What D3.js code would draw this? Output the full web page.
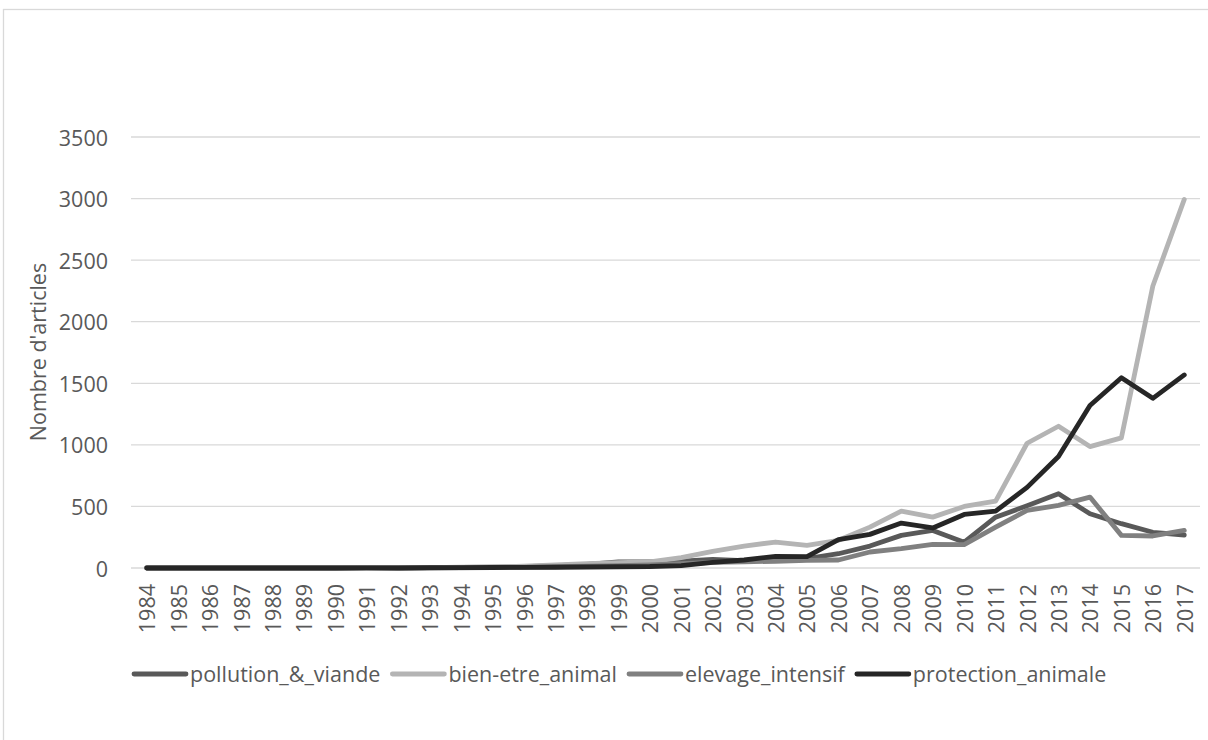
<!DOCTYPE html>
<html>
<head>
<meta charset="utf-8">
<script src="https://cdn.jsdelivr.net/npm/d3@7"></script>
<style>
  html, body { margin: 0; padding: 0; background: #fff; }
  svg { display: block; }
  text { font-family: "Open Sans", sans-serif; fill: #595959; }
</style>
</head>
<body>
<svg id="chart" width="1208" height="740"></svg>
<script>
const years = ["1984","1985","1986","1987","1988","1989","1990","1991","1992","1993","1994","1995","1996","1997","1998","1999","2000","2001","2002","2003","2004","2005","2006","2007","2008","2009","2010","2011","2012","2013","2014","2015","2016","2017"];

const pollution_viande = [0,0,0,0,0,0,0,2,1,3,5,6,10,20,30,50,50,55,70,60,65,76,116,178,265,305,210,413,505,603,440,360,290,268];
const bien_etre_animal = [0,0,0,0,0,0,0,2,1,3,6,8,15,25,35,43,49,84,135,178,211,184,225,332,462,413,500,543,1013,1151,986,1057,2290,2993];
const elevage_intensif = [0,0,0,0,0,0,0,1,0,1,2,3,5,10,15,20,25,35,45,50,55,62,65,130,157,192,190,332,468,508,576,265,260,305];
const protection_animale = [0,0,0,0,0,0,0,1,0,2,3,4,5,6,8,10,12,20,45,65,95,92,230,273,365,325,435,462,655,905,1320,1545,1378,1568];

const seriesNames = ["pollution_&_viande","bien-etre_animal","elevage_intensif","protection_animale"];
const seriesColors = ["#595959","#b4b4b4","#808080","#262626"];
const yTicks = [0,500,1000,1500,2000,2500,3000,3500];
const yTitle = "Nombre d'articles";

const seriesValues = [pollution_viande, bien_etre_animal, elevage_intensif, protection_animale];
const FS = "21.5px";

const svg = d3.select("#chart");

// outer chart border
svg.append("rect")
  .attr("x", 3.5).attr("y", 9.5)
  .attr("width", 1400).attr("height", 1000)
  .attr("fill", "none").attr("stroke", "#d9d9d9").attr("stroke-width", 1.3);

const x = d3.scaleBand().domain(years).range([131, 1200]);
const y = d3.scaleLinear().domain([0, 3500]).range([568, 137]);

// gridlines
svg.append("g").selectAll("line").data(yTicks).join("line")
  .attr("x1", 131).attr("x2", 1200)
  .attr("y1", d => y(d)).attr("y2", d => y(d))
  .attr("stroke", "#d9d9d9").attr("stroke-width", 1.3);

// y tick labels
svg.append("g").selectAll("text").data(yTicks).join("text")
  .attr("x", 108).attr("y", d => y(d))
  .attr("text-anchor", "end").attr("dominant-baseline", "central")
  .style("font-size", FS)
  .text(d => d);

// y title
svg.append("text")
  .attr("transform", "translate(37,352) rotate(-90)")
  .attr("text-anchor", "middle").attr("dominant-baseline", "central")
  .style("font-size", FS)
  .text(yTitle);

// x tick labels
svg.append("g").selectAll("text").data(years).join("text")
  .attr("transform", d => `translate(${x(d) + x.bandwidth()/2},584) rotate(-90)`)
  .attr("text-anchor", "end").attr("dominant-baseline", "central")
  .style("font-size", FS)
  .text(d => d);

// lines
const line = d3.line()
  .x((d, i) => x(years[i]) + x.bandwidth()/2)
  .y(d => y(d));

svg.append("g").selectAll("path").data(seriesValues).join("path")
  .attr("d", d => line(d))
  .attr("fill", "none")
  .attr("stroke", (d, i) => seriesColors[i])
  .attr("stroke-width", 4.8)
  .attr("stroke-linejoin", "round")
  .attr("stroke-linecap", "round");

// legend
const legend = svg.append("g");
let lx = 132;
seriesNames.forEach((name, i) => {
  legend.append("line")
    .attr("x1", lx + 2).attr("x2", lx + 54)
    .attr("y1", 674).attr("y2", 674)
    .attr("stroke", seriesColors[i]).attr("stroke-width", 4.8)
    .attr("stroke-linecap", "round");
  const t = legend.append("text")
    .attr("x", lx + 58).attr("y", 673)
    .attr("dominant-baseline", "central")
    .style("font-size", FS)
    .text(name);
  const w = t.node().getComputedTextLength();
  lx = lx + 58 + w + 10;
});
</script>
</body>
</html>
